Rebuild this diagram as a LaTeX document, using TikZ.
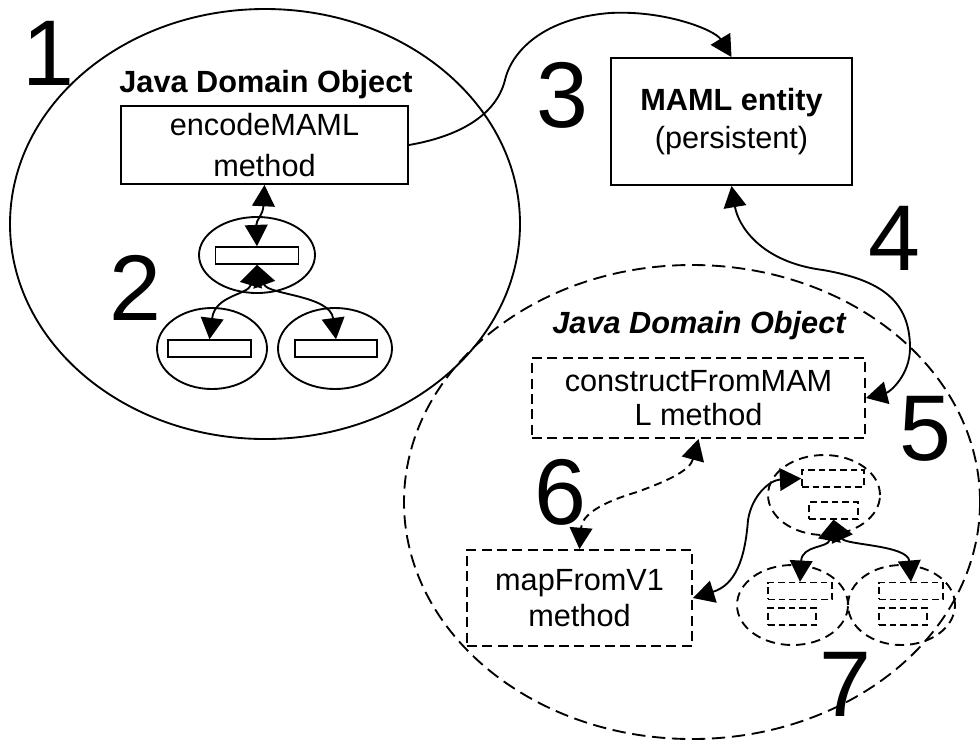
\documentclass[tikz,border=0pt]{standalone}
\usepackage{fontspec}
\setmainfont{Liberation Sans}
\usetikzlibrary{arrows.meta,shapes.geometric}
\begin{document}
\begin{tikzpicture}[x=0.75pt,y=-0.75pt,line width=1.4pt,
  numlabel/.style={inner sep=0pt,font=\fontsize{70}{70}\selectfont},
  titletext/.style={inner sep=0pt,anchor=base,font=\fontsize{23}{28}\selectfont\bfseries},
  solidbox/.style={draw,rectangle,inner sep=0pt,align=center},
  dashbox/.style={draw,rectangle,inner sep=0pt,align=center,dash pattern=on 7.5pt off 4pt},
  oval/.style={draw,ellipse,inner sep=0pt},
  dashoval/.style={draw,ellipse,inner sep=0pt,dash pattern=on 7pt off 4.5pt},
  minirect/.style={draw,rectangle,inner sep=0pt,minimum height=12.5pt},
  dminirect/.style={draw,rectangle,inner sep=0pt,minimum height=12.5pt,line width=1.2pt,dash pattern=on 5pt off 3pt}]
\tikzset{bigtip/.tip={Triangle[length=16pt 0 0,width=17pt 0 0]}}
\tikzset{biarrow/.style={bigtip-bigtip},endarrow/.style={-bigtip}}
\useasboundingbox (0,0) rectangle (980,740);

% big containers
\node[oval,minimum width=382.5pt,minimum height=322.5pt] (bigL) at (265,224) {};
\node[draw,ellipse,inner sep=0pt,dash pattern=on 10pt off 5pt,minimum width=432pt,minimum height=355.5pt] (bigR) at (692,502) {};

% number labels
\node[numlabel] (n1) at (48,53) {1};
\node[numlabel] (n2) at (135,288) {2};
\node[numlabel] (n3) at (562,95) {3};
\node[numlabel] (n4) at (894,238) {4};
\node[numlabel] (n5) at (925,429) {5};
\node[numlabel] (n6) at (560,492) {6};
\node[numlabel] (n7) at (845,684) {7};

% titles
\node[titletext] (tL) at (266,92) {Java Domain Object};
\node[titletext,font=\fontsize{23}{28}\selectfont\bfseries\itshape] (tR) at (699,333) {Java Domain Object};

% boxes
\node[solidbox,minimum width=215.25pt,minimum height=58.5pt,font=\fontsize{23}{31}\selectfont] (enc) at (264.5,145) {encodeMAML\\method};
\node[solidbox,minimum width=180.75pt,minimum height=95.25pt,font=\fontsize{23}{28}\selectfont] (maml) at (731.5,121.5) {\textbf{MAML entity}\\(persistent)};
\node[dashbox,minimum width=249.75pt,minimum height=60pt,font=\fontsize{23}{25}\selectfont] (cfm) at (698.5,398) {constructFromMAM\\L method};
\node[dashbox,minimum width=168.75pt,minimum height=72pt,font=\fontsize{23}{27}\selectfont] (mfv) at (579.5,598) {mapFromV1\\method};

% left tree
\node[oval,minimum width=87pt,minimum height=57pt] (lto) at (257,255) {};
\node[oval,minimum width=82.5pt,minimum height=60.75pt] (lbo) at (212,348.5) {};
\node[oval,minimum width=85.5pt,minimum height=60.75pt] (lro) at (335,348.5) {};
\node[minirect,minimum width=62.25pt] (ltr) at (257,255.5) {};
\node[minirect,minimum width=62.25pt] (lbr) at (209.5,348.5) {};
\node[minirect,minimum width=61.5pt] (lrr) at (336,348.5) {};

% right tree
\node[dashoval,minimum width=84pt,minimum height=60pt] (rto) at (824,495) {};
\node[dashoval,minimum width=83.25pt,minimum height=60pt] (rbo) at (792.5,605) {};
\node[dashoval,minimum width=80.25pt,minimum height=60pt] (rro) at (901.5,605) {};
\node[dminirect,minimum width=46.5pt] (rt1) at (833,478.5) {};
\node[dminirect,minimum width=36.75pt] (rt2) at (833.5,510.5) {};
\node[dminirect,minimum width=48pt] (rb1) at (800,591) {};
\node[dminirect,minimum width=36pt] (rb2) at (792,616.5) {};
\node[dminirect,minimum width=48pt] (rr1) at (911,591) {};
\node[dminirect,minimum width=36pt] (rr2) at (903,616.5) {};

% connectors
\draw[endarrow] (enc.east) .. controls (450,138) and (495,120) .. (505,80)
  .. controls (512,50) and (545,18) .. (610,13)
  .. controls (665,10) and (715,30) .. (maml.north);
\draw[biarrow] (maml.south) .. controls (738,225) and (760,262) .. (823,270)
  .. controls (880,280) and (910,300) .. (910,348)
  .. controls (910,375) and (890,392) .. (cfm.east);
\draw[biarrow,dash pattern=on 6pt off 4pt] (cfm.south) .. controls (690,470) and (670,480) .. (637,492)
  .. controls (600,503) and (582,515) .. (mfv.north);
\draw[biarrow] (mfv.east) .. controls (735,585) and (745,560) .. (748,520)
  .. controls (752,495) and (770,480) .. (rt1.west);

\draw[biarrow] (enc.south) .. controls (263,215) and (256,220) .. (ltr.north);
\draw[biarrow] (ltr.south) .. controls (248,295) and (215,295) .. (lbr.north);
\draw[biarrow] (ltr.south) .. controls (268,295) and (330,295) .. (lrr.north);

\draw[biarrow] (rt2.south) .. controls (828,548) and (802,545) .. (rb1.north);
\draw[biarrow] (rt2.south) .. controls (845,545) and (908,545) .. (rr1.north);
\end{tikzpicture}
\end{document}
